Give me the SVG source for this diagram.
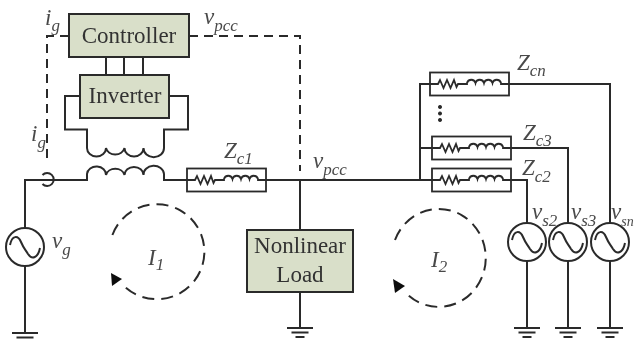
<svg xmlns="http://www.w3.org/2000/svg" xmlns:xlink="http://www.w3.org/1999/xlink" width="634" height="340" viewBox="0 0 634 340">
<style>
.w{fill:none;stroke:#2b2b2b;stroke-width:2}
.d{fill:none;stroke:#2b2b2b;stroke-width:2;stroke-dasharray:9 6}
.loop{fill:none;stroke:#2b2b2b;stroke-width:2;stroke-dasharray:12 7}
.b{fill:#d9dfc9;stroke:#2b2b2b;stroke-width:2}
.z{fill:none;stroke:#2b2b2b;stroke-width:1.8}
.t{font-family:"Liberation Serif","Times New Roman",serif;font-size:23px;fill:#333;text-anchor:middle}
.l{font-family:"Liberation Serif","Times New Roman",serif;font-size:23px;font-style:italic;fill:#4a4a4a}
.s{font-size:17px}
.xs{font-size:14px}
</style>
<defs>
<filter id="soft" x="-2%" y="-2%" width="104%" height="104%"><feGaussianBlur stdDeviation="0.4"/></filter>
<g id="imp"><rect class="z" x="0" y="-11.500" width="79" height="23"/><path class="z" d="M0 0H8L10 -4L13.500 4L17 -4L20.500 4L24 -4L26.500 3L28 0H37V-1A4.400 4.400 0 0 1 45.500 -1A4.400 4.400 0 0 1 54 -1A4.400 4.400 0 0 1 62.500 -1A4.400 4.400 0 0 1 71 -1V0H79"/></g>
<g id="src"><circle class="w" r="19"/><path class="w" d="M-15 -2C-13 -12 -7 -12 -4 -5C-1 2 0 2 3 7C7 13 13 11 15 1"/></g>
<g id="gnd"><path class="w" d="M-13 0H13M-8.500 4.500H8.500M-4.500 9H4.500"/></g>
</defs>
<g filter="url(#soft)">
<g id="connectors">
<path class="w" d="M25 228V180H87V174A9.500 8 0 0 1 106 175A9.500 8 0 0 1 124.500 175A9.500 8 0 0 1 143.500 175A9.500 8 0 0 1 164 174V180H187"/>
<path class="w" d="M266 180H432"/>
<path class="w" d="M511 180H527V223M511 148H568V223M508 84H610V223"/>
<path class="w" d="M420 180V84H430M420 148H432"/>
<path class="w" d="M300 180V230M300 292V328"/>
<path class="w" d="M25 266V333M527 261V328M568 261V328M610 261V328"/>
<path class="w" d="M106 57V75M124 57V75M143 57V75"/>
<path class="w" d="M80 96H65V129.500H87V148A9.500 8.500 0 0 0 106 148A9.500 8.500 0 0 0 124.500 148A9.500 8.500 0 0 0 143.500 148A9.500 8.500 0 0 0 164 148V129.500H188V96H169"/>
<path class="d" d="M69 36H47V164"/>
<path class="d" d="M189 36H300V171"/>
<path class="w" d="M42.500 175A6.500 6.500 0 1 1 42.500 184"/>
<path class="loop" d="M112.400 235A47.500 47.500 0 1 1 123 285"/>
<path fill="#111" d="M111 273L122 279L112 286Z"/>
<path class="loop" d="M395 240A47 49 0 1 1 405 292"/>
<path fill="#111" d="M393 279L405 286L395 293Z"/>
</g>
<g id="controller"><rect class="b" x="69" y="14" width="120" height="43"/><text class="t" x="129" y="43">Controller</text></g>
<g id="inverter"><rect class="b" x="80" y="75" width="89" height="43"/><text class="t" x="125" y="103">Inverter</text></g>
<g id="nonlinear-load"><rect class="b" x="247" y="230" width="106" height="62"/><text class="t" x="300" y="253">Nonlinear</text><text class="t" x="300" y="282">Load</text></g>
<g id="zc1"><use xlink:href="#imp" href="#imp" x="187" y="180"/><text class="l" x="224" y="158">Z<tspan class="s" dy="6">c1</tspan></text></g>
<g id="zc2"><use xlink:href="#imp" href="#imp" x="432" y="180"/><text class="l" x="522" y="175">Z<tspan class="s" dy="7">c2</tspan></text></g>
<g id="zc3"><use xlink:href="#imp" href="#imp" x="432" y="148"/><text class="l" x="523" y="140">Z<tspan class="s" dy="6">c3</tspan></text></g>
<g id="zcn"><use xlink:href="#imp" href="#imp" x="430" y="84"/><text class="l" x="517" y="70">Z<tspan class="s" dy="6">cn</tspan></text></g>
<g id="dots"><path fill="#2b2b2b" d="M440 105a2 2 0 1 0 .01 0ZM440 111.500a2 2 0 1 0 .01 0ZM440 118a2 2 0 1 0 .01 0Z"/></g>
<g id="vg"><use xlink:href="#src" href="#src" x="25" y="247"/><text class="l" x="52" y="248">v<tspan class="s" dy="7">g</tspan></text></g>
<g id="vs2"><use xlink:href="#src" href="#src" x="527" y="242"/><text class="l" x="532" y="219">v<tspan class="s" dy="7">s2</tspan></text></g>
<g id="vs3"><use xlink:href="#src" href="#src" x="568" y="242"/><text class="l" x="571" y="219">v<tspan class="s" dy="7">s3</tspan></text></g>
<g id="vsn"><use xlink:href="#src" href="#src" x="610" y="242"/><text class="l" x="611" y="219">v<tspan class="xs" dy="7">sn</tspan></text></g>
<g id="grounds"><use xlink:href="#gnd" href="#gnd" x="25" y="333"/><use xlink:href="#gnd" href="#gnd" x="300" y="328"/><use xlink:href="#gnd" href="#gnd" x="527" y="328"/><use xlink:href="#gnd" href="#gnd" x="568" y="328"/><use xlink:href="#gnd" href="#gnd" x="610" y="328"/></g>
<g id="labels">
<text class="l" x="45" y="25">i<tspan class="s" dy="6">g</tspan></text>
<text class="l" x="204" y="24">v<tspan class="s" dy="7">pcc</tspan></text>
<text class="l" x="31" y="141">i<tspan class="s" dy="7">g</tspan></text>
<text class="l" x="313" y="168">v<tspan class="s" dy="7">pcc</tspan></text>
<text class="l" x="148" y="265">I<tspan class="s" dy="5">1</tspan></text>
<text class="l" x="431" y="267">I<tspan class="s" dy="5">2</tspan></text>
</g>
</g>
</svg>
